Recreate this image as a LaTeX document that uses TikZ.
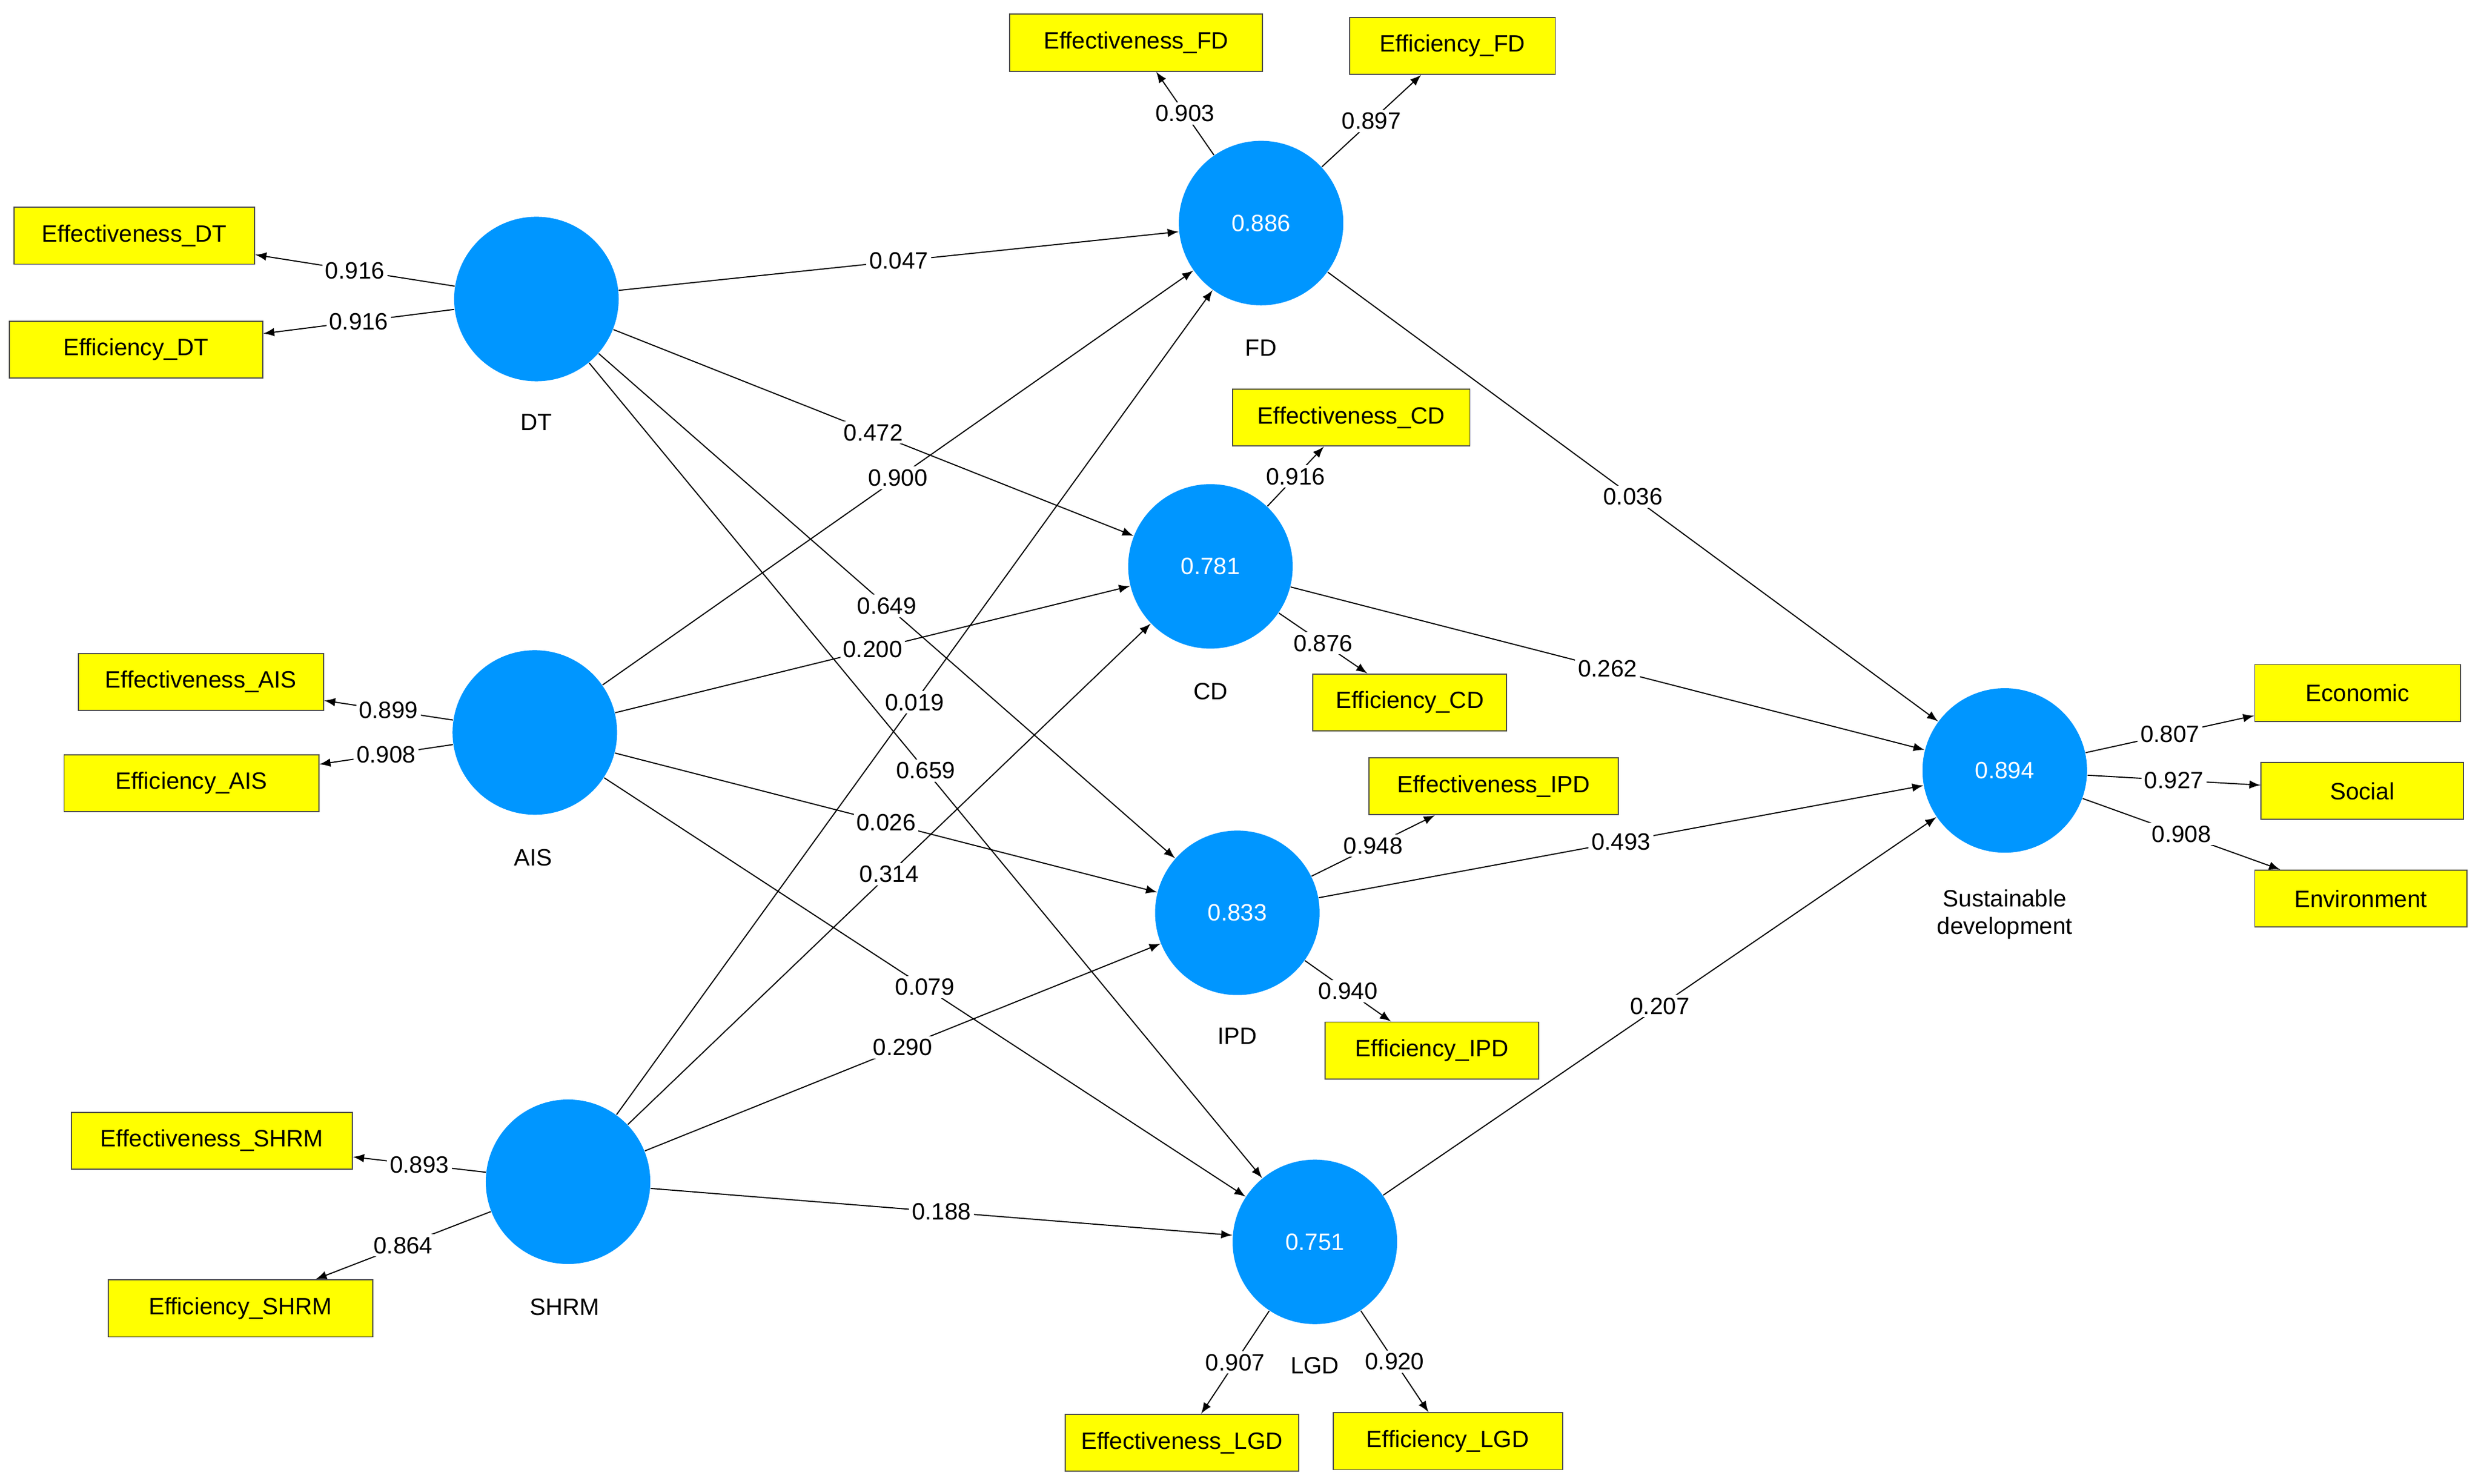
\documentclass[tikz,border=0pt]{standalone}
\usepackage{fontspec}
\setmainfont{Liberation Sans}
\usetikzlibrary{arrows,positioning}
\definecolor{lvblue}{RGB}{0,150,255}
\definecolor{indyellow}{RGB}{255,255,0}
\begin{document}
\begin{tikzpicture}[x=0.02cm,y=-0.02cm,>=latex,font=\fontsize{8.5}{10}\selectfont]
\tikzstyle{latent}=[circle,fill=lvblue,minimum size=2.08cm,inner sep=0pt,text=white]
\tikzstyle{ind}=[draw=black!70,fill=indyellow,minimum height=0.72cm,minimum width=2.6cm,inner xsep=4pt]
\tikzstyle{lvname}=[align=center]
\tikzstyle{lab}=[fill=white,inner sep=1pt]
\useasboundingbox (0,0) rectangle (1568,938);
% latent variables
\node[latent] (DT) at (339,189) {};
\node[latent] (AIS) at (338,463) {};
\node[latent] (SHRM) at (359,747) {};
\node[latent] (FD) at (797,141) {0.886};
\node[latent] (CD) at (765,358) {0.781};
\node[latent] (IPD) at (782,577) {0.833};
\node[latent] (LGD) at (831,785) {0.751};
\node[latent] (SD) at (1267,487) {0.894};
\node[lvname] at (339,267) {DT};
\node[lvname] at (337,542) {AIS};
\node[lvname] at (357,826) {SHRM};
\node[lvname] at (797,220) {FD};
\node[lvname] at (765,437) {CD};
\node[lvname] at (782,655) {IPD};
\node[lvname] at (831,863) {LGD};
\node[lvname] at (1267,578) {Sustainable\\development};
% indicators
\node[ind,minimum width=3.04cm] (effDT) at (85,149) {Effectiveness\_DT};
\node[ind,minimum width=3.2cm] (efiDT) at (86,221) {Efficiency\_DT};
\node[ind,minimum width=3.1cm] (effAIS) at (127,431) {Effectiveness\_AIS};
\node[ind,minimum width=3.22cm] (efiAIS) at (121,495) {Efficiency\_AIS};
\node[ind,minimum width=3.55cm] (effSHRM) at (134,721) {Effectiveness\_SHRM};
\node[ind,minimum width=3.35cm] (efiSHRM) at (152,827) {Efficiency\_SHRM};
\node[ind,minimum width=3.2cm] (effFD) at (718,27) {Effectiveness\_FD};
\node[ind] (efiFD) at (918,29) {Efficiency\_FD};
\node[ind,minimum width=3cm] (effCD) at (854,264) {Effectiveness\_CD};
\node[ind,minimum width=2.45cm] (efiCD) at (891,444) {Efficiency\_CD};
\node[ind,minimum width=3.15cm] (effIPD) at (944,497) {Effectiveness\_IPD};
\node[ind,minimum width=2.7cm] (efiIPD) at (905,664) {Efficiency\_IPD};
\node[ind,minimum width=2.95cm] (effLGD) at (747,912) {Effectiveness\_LGD};
\node[ind,minimum width=2.9cm] (efiLGD) at (915,911) {Efficiency\_LGD};
\node[ind] (eco) at (1490,438) {Economic};
\node[ind,minimum width=2.56cm] (soc) at (1493,500) {Social};
\node[ind,minimum width=2.68cm] (env) at (1492,568) {Environment};
% outer loadings
\foreach \a/\b/\v in {DT/effDT/0.916,DT/efiDT/0.916,AIS/effAIS/0.899,AIS/efiAIS/0.908,
  SHRM/effSHRM/0.893,SHRM/efiSHRM/0.864,FD/effFD/0.903,FD/efiFD/0.897,
  CD/effCD/0.916,CD/efiCD/0.876,IPD/effIPD/0.948,IPD/efiIPD/0.940,
  LGD/effLGD/0.907,LGD/efiLGD/0.920,SD/eco/0.807,SD/soc/0.927,SD/env/0.908}
  \draw[->] (\a) -- node[lab]{\v} (\b);
% path coefficients
\foreach \a/\b/\v in {DT/FD/0.047,DT/CD/0.472,DT/IPD/0.649,DT/LGD/0.659,
  AIS/FD/0.900,AIS/CD/0.200,AIS/IPD/0.026,AIS/LGD/0.079,
  SHRM/FD/0.019,SHRM/CD/0.314,SHRM/IPD/0.290,SHRM/LGD/0.188,
  FD/SD/0.036,CD/SD/0.262,IPD/SD/0.493,LGD/SD/0.207}
  \draw[->] (\a) -- node[lab]{\v} (\b);
\end{tikzpicture}
\end{document}
